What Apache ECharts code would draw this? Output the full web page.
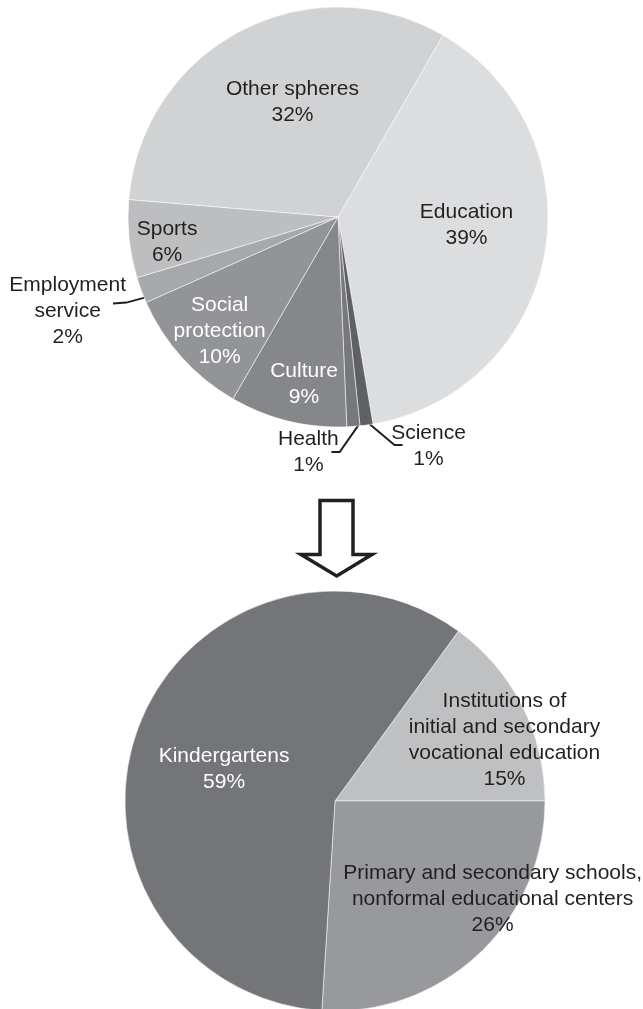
<!DOCTYPE html>
<html>
<head>
<meta charset="utf-8">
<script src="https://cdn.jsdelivr.net/npm/echarts@6/dist/echarts.min.js"></script>
<style>
  html, body { margin: 0; padding: 0; background: #fff; }
  #chart { width: 643px; height: 1009px; }
</style>
</head>
<body>
<div id="chart"></div>
<script>
// Spending by sphere, percent of total
const spheres = ['Education', 'Science', 'Health', 'Culture', 'Social\nprotection',
                 'Employment\nservice', 'Sports', 'Other spheres'];
const sphereShares = [39, 1, 1, 9, 10, 2, 6, 32];

// Breakdown of the education share, percent
const eduTypes = ['Institutions of\ninitial and secondary\nvocational education',
                  'Primary and secondary schools,\nnonformal educational centers',
                  'Kindergartens'];
const eduShares = [15, 26, 59];

const INK = '#231f20';
const FONT = "'Liberation Sans', Arial, sans-serif";

// Layout and styling of the two pies.
// Inside labels: polar = [angle clockwise from 12 o'clock, fraction of radius].
// Outside labels: leader offsets and text offset from the slice's rim point.
const topPie = {
  center: [338, 217], radius: 210, startAngle: 60,
  colors: ['#dcdddf', '#5f6063', '#77787b', '#86878a', '#939497', '#a7a8aa', '#bdbec0', '#d1d2d4'],
  textColors: [INK, INK, INK, '#ffffff', '#ffffff', INK, INK, INK],
  place: [
    { polar: [93.7, 0.613] },
    { leader: [[3, -1], [28, 20], [36, 20]], text: [62, 21] },
    { leader: [[5.6, -2], [-13.7, 25.6], [-22, 25.6]], text: [-45, 25.6] },
    { polar: [191.5, 0.811] },
    { polar: [226.1, 0.782] },
    { leader: [[3.5, 7.4], [-14.8, 12.4], [-28.2, 13.4]], text: [-73.5, 20.8] },
    { polar: [261.5, 0.823] },
    { polar: [338.4, 0.589] }
  ]
};
const bottomPie = {
  center: [335, 801], radius: 210, startAngle: 54,
  colors: ['#bfc0c2', '#98999c', '#747578'],
  textColors: [INK, INK, '#ffffff'],
  place: [
    { polar: [70.35, 0.857] },
    { polar: [122.0, 0.885] },
    { polar: [285.8, 0.549] }
  ]
};

function makeLabelLayout(cfg, values) {
  const total = values.reduce((a, b) => a + b, 0);
  const mids = [];
  let acc = 0;
  values.forEach(v => {
    mids.push(90 - cfg.startAngle + (acc + v / 2) / total * 360);
    acc += v;
  });
  return function (params) {
    const p = cfg.place[params.dataIndex];
    const cx = cfg.center[0], cy = cfg.center[1];
    if (p.polar) {
      const a = p.polar[0] * Math.PI / 180;
      const r = p.polar[1] * cfg.radius;
      return { x: cx + r * Math.sin(a), y: cy - r * Math.cos(a), align: 'center', verticalAlign: 'middle' };
    }
    const a = mids[params.dataIndex] * Math.PI / 180;
    const x0 = cx + cfg.radius * Math.sin(a);
    const y0 = cy - cfg.radius * Math.cos(a);
    return {
      x: x0 + p.text[0], y: y0 + p.text[1], align: 'center', verticalAlign: 'middle',
      labelLinePoints: p.leader.map(d => [x0 + d[0], y0 + d[1]])
    };
  };
}

function pieSeries(cfg, names, values) {
  return {
    type: 'pie',
    center: cfg.center,
    radius: cfg.radius,
    startAngle: cfg.startAngle,
    clockwise: true,
    avoidLabelOverlap: false,
    silent: true,
    emphasis: { disabled: true, scale: false },
    itemStyle: { borderColor: 'rgba(255,255,255,0.75)', borderWidth: 0.7 },
    label: {
      show: true, position: 'inside',
      fontFamily: FONT, fontSize: 21, lineHeight: 26,
      formatter: p => p.name + '\n' + p.value + '%'
    },
    labelLine: { show: false },
    labelLayout: makeLabelLayout(cfg, values),
    data: names.map((n, i) => {
      const outside = !!cfg.place[i].leader;
      return {
        name: n,
        value: values[i],
        itemStyle: { color: cfg.colors[i] },
        label: { color: cfg.textColors[i], position: outside ? 'outside' : 'inside' },
        labelLine: { show: outside, smooth: false, lineStyle: { color: INK, width: 2 } }
      };
    })
  };
}

const chart = echarts.init(document.getElementById('chart'), null, { renderer: 'canvas' });
chart.setOption({
  animation: false,
  backgroundColor: '#ffffff',
  series: [
    pieSeries(topPie, spheres, sphereShares),
    pieSeries(bottomPie, eduTypes, eduShares)
  ],
  graphic: [{
    type: 'polygon',
    shape: {
      points: [[320, 500.5], [353, 500.5], [353, 554.5], [372, 554.5],
               [336.7, 576], [301, 554.5], [320, 554.5]]
    },
    style: { fill: '#ffffff', stroke: INK, lineWidth: 3.5, lineJoin: 'miter' },
    silent: true
  }]
});
</script>
</body>
</html>
